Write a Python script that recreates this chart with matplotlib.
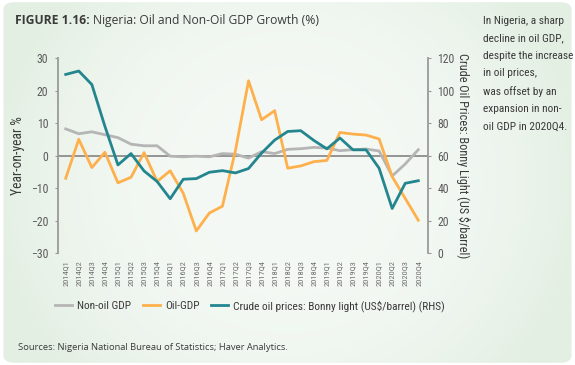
#!/usr/bin/env python3
"""Nigeria oil and non-oil GDP growth chart"""

import numpy as np
import matplotlib.pyplot as plt
from matplotlib import font_manager
from matplotlib.patches import FancyBboxPatch

quarters = [
    '2014Q1', '2014Q2', '2014Q3', '2014Q4', '2015Q1', '2015Q2', '2015Q3',
    '2015Q4', '2016Q1', '2016Q2', '2016Q3', '2016Q4', '2017Q1', '2017Q2',
    '2017Q3', '2017Q4', '2018Q1', '2018Q2', '2018Q3', '2018Q4', '2019Q1',
    '2019Q2', '2019Q3', '2019Q4', '2020Q1', '2020Q2', '2020Q3', '2020Q4',
]
non_oil_gdp = [8.2, 6.7, 7.3, 6.4, 5.5, 3.5, 3.0, 3.0, -0.2, -0.4, -0.2, -0.4,
               0.6, 0.4, -0.8, 1.2, 0.6, 1.9, 2.1, 2.5, 2.3, 1.5, 1.8, 2.0,
               1.4, -6.3, -2.6, 1.8]
oil_gdp = [-7.0, 5.0, -3.7, 1.0, -8.4, -6.7, 0.9, -8.0, -4.7, -11.6, -23.2,
           -17.7, -15.6, 1.6, 23.0, 11.0, 13.8, -3.9, -3.2, -1.9, -1.5, 7.1,
           6.6, 6.3, 5.1, -6.5, -13.2, -19.9]
crude_price = [109.9, 112.0, 103.7, 78.0, 54.2, 61.2, 50.5, 44.0, 33.4, 45.4,
               45.8, 49.7, 50.7, 49.3, 52.0, 61.5, 69.5, 74.8, 75.3, 69.3,
               64.1, 70.8, 63.5, 63.5, 52.2, 27.4, 42.9, 44.5]

left_ticks = [-30, -20, -10, 0, 10, 20, 30]
right_ticks = [0, 20, 40, 60, 80, 100, 120]
left_tick_labels = ['\u221230', '\u221220', '\u221210', '0', '10', '20', '30']

side_note = ('In Nigeria, a sharp\ndecline in oil GDP,\ndespite the increase\n'
             'in oil prices,\nwas offset by an\nexpansion in non-\noil GDP in 2020Q4.')


def pick_narrow():
    # the chart uses a condensed face; take whatever narrow font is around
    fonts = font_manager.fontManager.ttflist
    names = {f.name for f in fonts}
    for name in ['Roboto Condensed', 'Liberation Sans Narrow', 'Open Sans Condensed',
                 'Noto Sans Condensed', 'DejaVu Sans Condensed']:
        if name in names:
            return [name, 'DejaVu Sans'], 'normal'
    if any('Condensed' in f.fname and f.name == 'DejaVu Sans' for f in fonts):
        return ['DejaVu Sans'], 'condensed'
    return ['Liberation Sans', 'DejaVu Sans'], 'normal'


NARROW, STRETCH = pick_narrow()
WIDE = ['Open Sans', 'DejaVu Sans']

GRAY = '#b5b5b5'
ORANGE = '#fdb04b'
TEAL = '#23868f'
TEXT = '#3a3a3a'
TICK = '#5a5a5a'
SPINE = '#9a9a9a'

plt.rcParams['font.family'] = NARROW
plt.rcParams['font.stretch'] = STRETCH

fig = plt.figure(figsize=(5.75, 3.65), dpi=100)
fig.patch.set_facecolor('white')

# background panel with a soft green gradient
bg = fig.add_axes([0, 0, 1, 1], zorder=-10)
bg.set_axis_off()
gx = np.linspace(-1, 1, 300)
gy = np.linspace(-1, 1, 200)
xx, yy = np.meshgrid(gx, gy)
shade = np.clip(np.sqrt(xx ** 2 * 0.9 + yy ** 2 * 0.4), 0, 1) ** 2.5
c_in = np.array([245, 249, 245]) / 255
c_out = np.array([227, 239, 227]) / 255
img = c_in[None, None, :] * (1 - shade[..., None]) + c_out[None, None, :] * shade[..., None]
im = bg.imshow(img, extent=[0, 1, 0, 1], aspect='auto', transform=bg.transAxes)
panel = FancyBboxPatch((0.006, 0.006), 0.988, 0.988,
                       boxstyle='round,pad=0,rounding_size=0.02',
                       transform=bg.transAxes, facecolor='none', edgecolor='none')
bg.add_patch(panel)
im.set_clip_path(panel)
bg.set_xlim(0, 1)
bg.set_ylim(0, 1)

ax = fig.add_axes([0.1009, 0.3068, 0.6429, 0.5342])
ax.set_facecolor('none')
x = np.arange(len(quarters))

ax.axhline(0, color='#8c8c8c', linewidth=1.3, zorder=1)
ax.plot(x, non_oil_gdp, color=GRAY, linewidth=2.0, label='Non-oil GDP', zorder=2)
ax.plot(x, oil_gdp, color=ORANGE, linewidth=2.0, label='Oil-GDP', zorder=3)
ax.set_xlim(-0.59, 27.72)
ax.set_ylim(-30, 30)
ax.set_yticks(left_ticks)
ax.set_yticklabels(left_tick_labels)
ax.set_xticks(x)
ax.set_xticklabels(quarters, rotation=90, fontsize=6.1, color='#707070')
ax.tick_params(axis='x', length=0, pad=5)
ax.tick_params(axis='y', length=2, width=0.8, color=SPINE, labelsize=8.5,
               labelcolor=TICK, pad=5)
for side in ['top', 'bottom', 'right']:
    ax.spines[side].set_visible(False)
ax.spines['left'].set_color(SPINE)
ax.spines['left'].set_linewidth(1.3)
ax.set_ylabel('Year-on-year %', fontsize=9.8, color=TEXT, labelpad=4)

ax2 = ax.twinx()
ax2.plot(x, crude_price, color=TEAL, linewidth=2.0,
         label='Crude oil prices: Bonny light (US$/barrel) (RHS)', zorder=4)
ax2.set_ylim(0, 120)
ax2.set_yticks(right_ticks)
ax2.tick_params(axis='y', length=2, width=0.8, color=SPINE, labelsize=8.5,
                labelcolor=TICK, pad=5)
for side in ['top', 'bottom', 'left']:
    ax2.spines[side].set_visible(False)
ax2.spines['right'].set_color(SPINE)
ax2.spines['right'].set_linewidth(1.3)
ax2.set_ylabel('Crude Oil Prices: Bonny Light (US $/barrel)', fontsize=8.8,
               color=TEXT, rotation=270, labelpad=11)

handles = ax.get_lines()[1:] + ax2.get_lines()
fig.legend(handles=handles, labels=[h.get_label() for h in handles],
           loc='center left', bbox_to_anchor=(0.096, 0.162), ncol=3,
           frameon=False, fontsize=8.2, handlelength=1.5, handletextpad=0.45,
           columnspacing=1.0, borderpad=0.0, borderaxespad=0.0, labelcolor=TEXT)

# title: bold label, then the rest right after it
renderer = fig.canvas.get_renderer()
lead = fig.text(0.026, 0.943, 'FIGURE 1.16:', fontsize=8.7, fontweight='bold',
                color=TEXT, family=WIDE, stretch='normal', va='center')
lead_box = lead.get_window_extent(renderer).transformed(fig.transFigure.inverted())
fig.text(lead_box.x1 + 0.006, 0.943, 'Nigeria: Oil and Non-Oil GDP Growth (%)',
         fontsize=8.7, color=TEXT, family=WIDE, stretch='normal', va='center')
fig.text(0.840, 0.955, side_note, fontsize=8.2, color=TEXT, va='top',
         linespacing=1.9)
fig.text(0.031, 0.049, 'Sources: Nigeria National Bureau of Statistics; Haver Analytics.',
         fontsize=6.75, color=TEXT, family=WIDE, stretch='normal', va='center')

fig.savefig('out.png', dpi=100)
